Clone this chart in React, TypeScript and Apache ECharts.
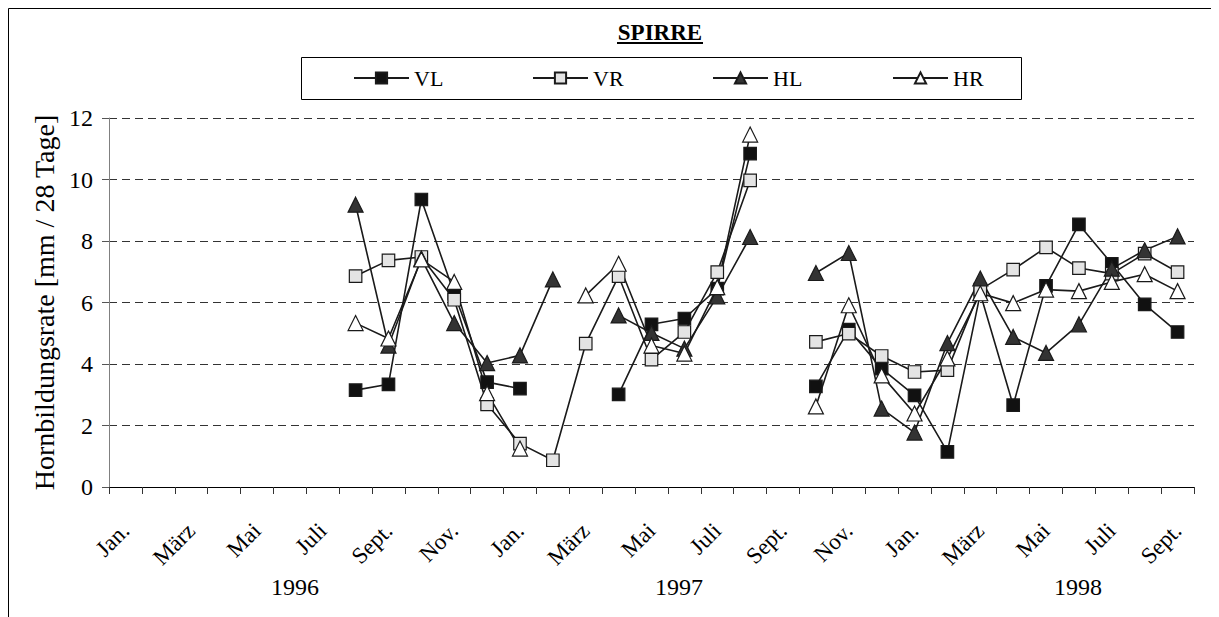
import React, { useEffect, useRef } from "react";
import * as echarts from "echarts";

// 33 months: Jan 1996 .. Sept 1998
const monthKeys = [
  "1996-01", "1996-02", "1996-03", "1996-04", "1996-05", "1996-06", "1996-07", "1996-08", "1996-09", "1996-10", "1996-11", "1996-12",
  "1997-01", "1997-02", "1997-03", "1997-04", "1997-05", "1997-06", "1997-07", "1997-08", "1997-09", "1997-10", "1997-11", "1997-12",
  "1998-01", "1998-02", "1998-03", "1998-04", "1998-05", "1998-06", "1998-07", "1998-08", "1998-09",
];
// label shown every second month
const tickLabels = [
  "Jan.", "", "März", "", "Mai", "", "Juli", "", "Sept.", "", "Nov.", "",
  "Jan.", "", "März", "", "Mai", "", "Juli", "", "Sept.", "", "Nov.", "",
  "Jan.", "", "März", "", "Mai", "", "Juli", "", "Sept.",
];
const years = ["1996", "1997", "1998"];

const N = null;
const VL = [N, N, N, N, N, N, N, 3.15, 3.34, 9.35, 6.29, 3.41, 3.2, N, N, 3.01, 5.29, 5.48, 6.45, 10.84, N, 3.27, 5.12, 3.85, 2.98, 1.14, 6.29, 2.66, 6.54, 8.54, 7.26, 5.94, 5.04];
const VR = [N, N, N, N, N, N, N, 6.86, 7.37, 7.48, 6.09, 2.69, 1.41, 0.87, 4.66, 6.86, 4.14, 5.04, 6.99, 9.97, N, 4.72, 4.99, 4.26, 3.74, 3.8, 6.42, 7.07, 7.79, 7.12, 6.94, 7.59, 6.99];
const HL = [N, N, N, N, N, N, N, 9.18, 4.6, 7.43, 5.33, 4.03, 4.28, 6.75, N, 5.58, 5.01, 4.5, 6.2, 8.13, N, 6.96, 7.61, 2.55, 1.77, 4.68, 6.78, 4.88, 4.36, 5.29, 7.1, 7.7, 8.15];
const HR = [N, N, N, N, N, N, N, 5.33, 4.83, 7.4, 6.67, 3.05, 1.25, N, 6.23, 7.26, 4.6, 4.34, 6.5, 11.46, N, 2.62, 5.91, 3.63, 2.39, 4.18, 6.3, 5.98, 6.42, 6.37, 6.67, 6.92, 6.37];

const FONT = "'Times New Roman', 'Liberation Serif', serif";

export default function App() {
  const ref = useRef<HTMLDivElement>(null);
  useEffect(() => {
    if (!ref.current) return;
    const chart = echarts.init(ref.current, undefined, { renderer: "svg" });
    const mk = (
      name: string,
      arr: (number | null)[],
      symbol: string,
      size: number,
      fill: string
    ) => ({
      name,
      type: "line",
      data: arr.map((v) => (v === null ? "-" : v)),
      symbol,
      symbolSize: size,
      showSymbol: true,
      connectNulls: false,
      lineStyle: { color: "#1a1a1a", width: 1.6 },
      itemStyle: { color: fill, borderColor: "#1a1a1a", borderWidth: 1.2 },
      emphasis: { disabled: true },
    });
    const legendStarts = [340, 519, 699, 879];
    const names = ["VL", "VR", "HL", "HR"];
    chart.setOption({
      animation: false,
      textStyle: { fontFamily: FONT },
      grid: { left: 101, top: 110, width: 1085, height: 369, containLabel: false },
      legend: names.map((n, i) => ({
        data: [n],
        left: legendStarts[i],
        top: 54,
        itemWidth: 55,
        itemHeight: 14,
        itemGap: 7,
        textStyle: { fontFamily: FONT, fontSize: 22, color: "#000" },
        selectedMode: false,
      })),
      xAxis: {
        type: "category",
        data: monthKeys,
        boundaryGap: true,
        axisLine: { show: true, onZero: false, lineStyle: { color: "#000", width: 1 } },
        axisTick: { show: true, interval: 0, length: 7, lineStyle: { color: "#333" } },
        splitLine: { show: false },
        axisLabel: {
          interval: 0,
          rotate: 45,
          margin: 40,
          fontFamily: FONT,
          fontSize: 23,
          color: "#000",
          formatter: (_v: string, idx: number) => tickLabels[idx] ?? "",
        },
      },
      yAxis: {
        type: "value",
        min: 0,
        max: 12,
        interval: 2,
        name: "Hornbildungsrate [mm / 28 Tage]",
        nameLocation: "middle",
        nameGap: 51,
        nameTextStyle: { fontFamily: FONT, fontSize: 28, color: "#000" },
        axisLine: { show: true, lineStyle: { color: "#808080", width: 1 } },
        axisTick: { show: true, length: 7, lineStyle: { color: "#555" } },
        axisLabel: { margin: 16, fontFamily: FONT, fontSize: 24, color: "#000" },
        splitLine: { show: true, lineStyle: { color: "#333", width: 1, type: [8, 5] } },
      },
      series: [
        mk("VL", VL, "rect", 12.5, "#111111"),
        mk("VR", VR, "rect", 12.5, "#e4e4e4"),
        mk("HL", HL, "triangle", 15, "#333333"),
        mk("HR", HR, "triangle", 15, "#ffffff"),
      ],
      graphic: [
        {
          type: "rect",
          shape: { x: 0.5, y: 0.5, width: 1203, height: 640 },
          style: { fill: "none", stroke: "#000", lineWidth: 1 },
          silent: true,
        },
        {
          type: "rect",
          shape: { x: 293.5, y: 49.5, width: 720, height: 42 },
          style: { fill: "none", stroke: "#000", lineWidth: 1 },
          silent: true,
        },
        {
          type: "text",
          x: 652,
          y: 24,
          style: {
            text: "SPIRRE",
            fontFamily: FONT,
            fontSize: 23,
            fontWeight: "bold",
            fill: "#000",
            align: "center",
            verticalAlign: "middle",
          },
        },
        {
          type: "line",
          shape: { x1: 609, y1: 35, x2: 695, y2: 35 },
          style: { stroke: "#000", lineWidth: 2 },
        },
        ...years.map((y, i) => ({
          type: "text",
          x: [287, 671, 1070][i],
          y: 579,
          style: {
            text: y,
            fontFamily: FONT,
            fontSize: 24,
            fill: "#000",
            align: "center",
            verticalAlign: "middle",
          },
        })),
      ],
    });
    return () => chart.dispose();
  }, []);
  return <div ref={ref} style={{ width: 1204, height: 620 }} />;
}
